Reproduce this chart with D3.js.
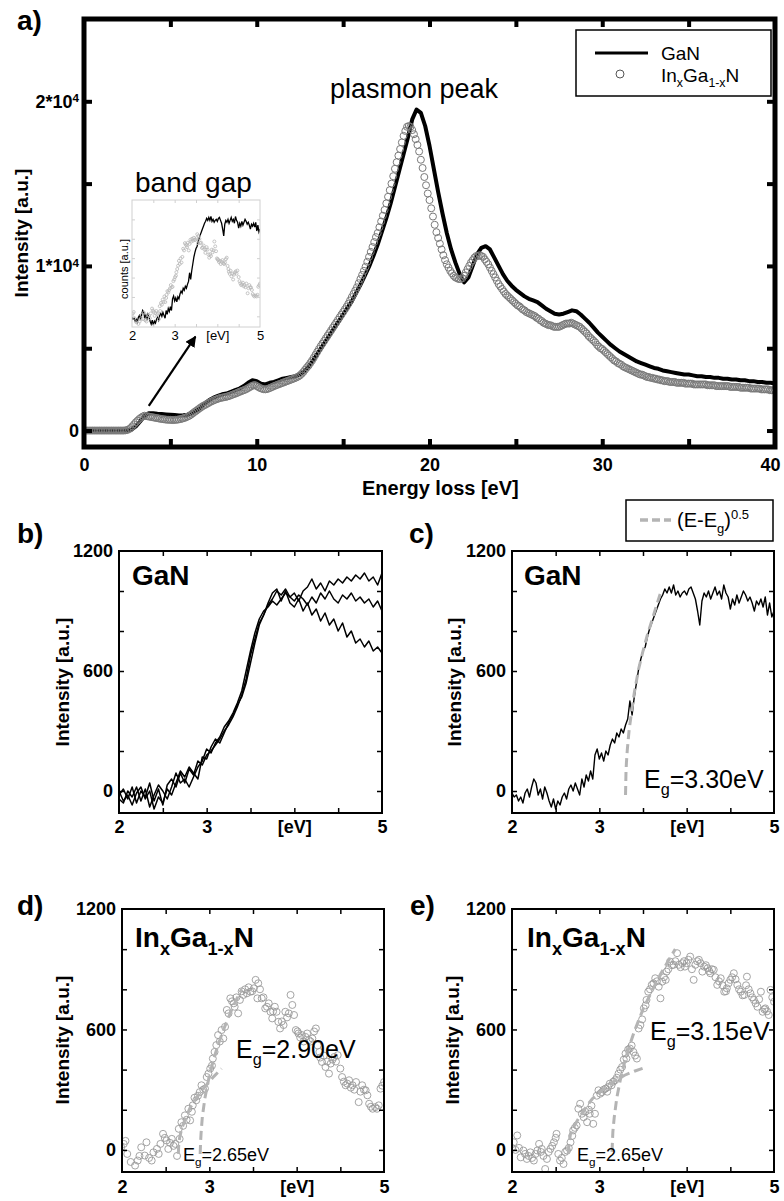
<!DOCTYPE html>
<html><head><meta charset="utf-8">
<script src="https://cdn.jsdelivr.net/npm/d3@7/dist/d3.min.js"></script>
<style>html,body{margin:0;padding:0;background:#fff;}</style>
</head><body>
<svg id="chart" width="784" height="1201" xmlns="http://www.w3.org/2000/svg"></svg>
<script>
const FONT = "'Liberation Sans', Arial, Helvetica, sans-serif";

// ================= DATA =================
// Panel a: EELS spectra (0-40 eV). Channel calibration: energy = start + i*step
const specStart = 0;
const gaNStep = 0.25;
const gaNSpectrum = [
  0,0,0,0, 0,0,0,0, 0,0,0,60, 250,550,900,1050, 1050,1020,1000,980,
  960,940,920,930, 960,1050,1200,1400, 1650,1850,2000,2100, 2200,2250,2350,2450,
  2550,2700,2900,3050, 3000,2850,2800,2900, 2950,3050,3150,3200, 3250,3300,3400,3600,
  3900,4250,4650,5050, 5450,5850,6250,6650, 7050,7450,7850,8350, 8850,9400,9950,10600,
  11300,12100,12900,13800, 14800,15800,16800,17800, 18900,19500,19300,18500,
  17300,15900,14500,13200, 12000,11000,10200,9500, 9000,9300,10000,10700,
  11100,11200,11000,10500, 10000,9500,9100,8800, 8550,8350,8150,8000,
  7900,7800,7600,7400, 7250,7100,7050,7100, 7200,7300,7250,7050,
  6800,6550,6250,5950, 5700,5450,5200,5000, 4800,4650,4500,4350,
  4200,4100,4000,3900, 3800,3750,3650,3600, 3550,3500,3450,3400,
  3400,3350,3300,3300, 3250,3250,3200,3200, 3150,3150,3100,3100,
  3050,3050,3000,3000, 2950,2950,2900,2900, 2850
];
const inGaNStep = 0.1;
const inGaNSpectrum = [
  0,0,0,0,0,0,0,0,0,0,
  0,0,0,0,0,0,0,0,0,0,
  0,0,0,0,10,30,80,150,260,380,
  500,600,700,780,850,900,880,860,840,820,
  800,780,760,740,720,700,690,670,660,650,
  650,640,640,650,660,680,700,730,760,800,
  850,900,970,1050,1130,1200,1280,1360,1430,1500,
  1550,1610,1670,1730,1780,1830,1870,1910,1950,1980,
  2000,2020,2040,2070,2100,2140,2180,2220,2260,2300,
  2350,2390,2430,2470,2520,2580,2640,2700,2750,2760,
  2700,2640,2580,2540,2510,2500,2520,2560,2600,2650,
  2700,2740,2780,2820,2860,2900,2940,2980,3020,3060,
  3100,3140,3180,3230,3280,3350,3450,3560,3700,3830,
  3950,4100,4250,4420,4600,4780,4950,5120,5280,5440,
  5600,5760,5920,6080,6240,6400,6560,6720,6880,7040,
  7200,7360,7520,7700,7900,8100,8300,8500,8700,8950,
  9200,9450,9700,9950,10250,10550,10850,11150,11450,11750,
  12000,12350,12700,13050,13400,13800,14200,14600,15000,15450,
  15900,16300,16700,17100,17500,17900,18200,18450,18500,18450,
  18250,18000,17700,17350,16950,16450,15950,15400,14900,14400,
  14000,13500,13000,12500,12050,11700,11350,11000,10650,10350,
  10100,9900,9700,9550,9400,9300,9250,9200,9200,9250,
  9400,9600,9800,10000,10200,10350,10500,10600,10600,10650,
  10600,10550,10400,10250,10100,9900,9700,9500,9300,9100,
  8900,8750,8600,8450,8300,8200,8100,8000,7900,7800,
  7700,7600,7550,7450,7350,7300,7200,7150,7100,7050,
  7000,6950,6850,6800,6700,6650,6550,6500,6450,6400,
  6400,6350,6300,6300,6300,6300,6350,6400,6450,6500,
  6500,6500,6550,6500,6450,6400,6350,6300,6200,6100,
  6000,5900,5750,5650,5550,5450,5350,5200,5100,5000,
  4950,4850,4750,4650,4550,4450,4350,4250,4200,4100,
  4050,4000,3900,3850,3800,3750,3700,3650,3600,3550,
  3500,3450,3400,3400,3350,3300,3250,3250,3200,3200,
  3150,3150,3100,3100,3050,3050,3000,3000,3000,2950,
  2950,2950,2950,2900,2900,2900,2900,2900,2850,2850,
  2850,2850,2850,2800,2800,2800,2800,2800,2800,2800,
  2800,2750,2750,2750,2750,2750,2700,2700,2700,2700,
  2700,2700,2700,2700,2650,2650,2650,2650,2650,2650,
  2600,2600,2600,2600,2600,2600,2550,2550,2550,2550,
  2550,2550,2500,2500,2500,2500,2500,2450,2450,2450,
  2450
];
const aXLabels = [0, 10, 20, 30, 40];
const aYLabels = [0, 10000, 20000];
const arrowTail = [3.75, 1500];
const arrowHead = [6.45, 5700];

// Panels b, c: GaN band-gap region (2-5 eV)
const lowStart = 2;
const bStep = 0.05;
const gaNScan1 = [
  -20,10,-40,20,-60,0,-30,40,-50,10,
  -70,30,60,20,90,40,110,80,150,130,
  180,200,230,260,300,330,370,420,480,560,
  680,760,840,880,930,960,1000,980,1010,970,
  990,950,1000,1020,1060,1010,1040,1000,1050,1030,
  1060,1040,1070,1050,1080,1060,1090,1050,1070,1030,
  1090
];
const gaNScan2 = [
  -40,-60,0,-30,20,-50,10,-80,-20,30,
  0,-40,20,90,40,60,20,70,120,150,
  210,190,240,270,320,350,390,440,500,600,
  700,790,860,900,920,950,930,960,990,970,
  950,980,960,930,970,940,990,960,1000,960,
  940,980,960,990,950,970,940,960,920,950,
  900
];
const gaNScan3 = [
  0,-50,-20,-70,-10,20,-40,0,-90,-30,
  -60,10,-20,40,100,70,120,90,60,170,
  160,220,260,240,290,340,380,430,470,540,
  640,740,830,880,940,990,1010,950,1000,940,
  920,960,900,940,880,910,850,890,830,860,
  800,840,770,800,740,760,720,750,700,720,
  690
];
const cStep = 0.025;
const gaNSum = [
  -10,-30,-20,-50,-30,-60,-10,10,-30,20,
  60,40,-20,10,-40,20,-10,-50,-80,-40,
  -90,-50,-70,-30,-10,-40,10,30,0,40,
  10,-20,60,20,80,50,100,60,180,210,
  160,190,150,200,180,230,260,240,290,270,
  310,290,330,360,450,380,470,540,610,660,
  700,720,770,810,840,870,900,930,960,980,
  1010,990,1020,990,1030,980,1000,970,990,1000,
  980,1010,1020,990,960,900,830,950,990,970,
  1000,960,990,1020,980,1000,960,1030,990,970,
  910,960,930,980,940,970,1000,980,950,970,
  940,900,950,930,960,920,970,880,940,870,
  900
];
const fitC = [[3.30,-20],[3.305,90],[3.31,140],[3.32,205],[3.34,300],[3.37,400],[3.40,490],[3.45,610],[3.50,700],[3.55,780],[3.60,850],[3.65,920],[3.70,990]];

// Panel d: InGaN (region 1)
const inGaND = [[1.99,13],[2.02,30],[2.04,45],[2.06,-20],[2.10,-60],[2.15,-78],[2.18,-53],[2.20,-30],[2.22,13],[2.26,-28],[2.28,38],[2.31,-40],[2.34,-53],[2.36,-12],[2.40,5],[2.42,-20],[2.44,30],[2.47,80],[2.49,60],[2.51,47],[2.53,5],[2.55,35],[2.57,55],[2.59,20],[2.61,30],[2.63,-30],[2.65,105],[2.66,55],[2.68,138],[2.70,120],[2.72,172],[2.74,150],[2.76,205],[2.78,147],[2.80,190],[2.81,222],[2.83,260],[2.85,247],[2.87,270],[2.89,288],[2.91,322],[2.93,300],[2.95,305],[2.97,363],[2.99,380],[3.01,405],[3.03,420],[3.04,455],[3.06,488],[3.08,522],[3.10,572],[3.12,540],[3.14,597],[3.16,555],[3.18,613],[3.20,697],[3.22,680],[3.24,755],[3.26,740],[3.28,730],[3.29,713],[3.31,760],[3.33,680],[3.35,747],[3.37,790],[3.39,772],[3.41,800],[3.43,780],[3.45,810],[3.47,788],[3.49,790],[3.51,805],[3.53,847],[3.55,755],[3.56,830],[3.58,800],[3.60,755],[3.62,760],[3.64,705],[3.66,713],[3.68,730],[3.70,688],[3.72,655],[3.73,690],[3.75,713],[3.77,688],[3.79,638],[3.81,605],[3.83,640],[3.85,622],[3.87,688],[3.89,660],[3.91,680],[3.93,772],[3.95,722],[3.97,672],[3.99,597],[4.01,590],[4.02,580],[4.04,560],[4.06,572],[4.08,540],[4.10,563],[4.12,580],[4.14,547],[4.16,540],[4.18,555],[4.20,590],[4.22,605],[4.24,520],[4.26,488],[4.27,460],[4.29,438],[4.31,470],[4.33,413],[4.35,440],[4.37,380],[4.39,430],[4.41,450],[4.43,463],[4.45,440],[4.47,472],[4.50,405],[4.52,363],[4.54,340],[4.56,322],[4.58,330],[4.60,347],[4.62,310],[4.64,322],[4.66,300],[4.68,338],[4.71,238],[4.73,290],[4.75,322],[4.77,300],[4.79,297],[4.81,272],[4.83,230],[4.85,215],[4.87,205],[4.90,213],[4.92,205],[4.94,222],[4.96,305],[4.98,320],[5.00,338]];
const fitD1 = [[2.645,-20],[2.65,30],[2.66,60],[2.68,100],[2.72,150],[2.78,210],[2.87,270],[2.95,315],[3.05,365],[3.14,405]];
const fitD2 = [[2.895,-20],[2.90,40],[2.905,80],[2.92,165],[2.95,260],[3.00,370],[3.05,453],[3.10,523],[3.15,585],[3.20,640],[3.25,692],[3.30,740],[3.37,800]];

// Panel e: InGaN (region 2)
const inGaNE = [[2.00,10],[2.02,38],[2.04,0],[2.06,72],[2.08,10],[2.10,-37],[2.13,-3],[2.15,-20],[2.17,-45],[2.19,-30],[2.21,-12],[2.23,-40],[2.25,-53],[2.27,-20],[2.29,-3],[2.31,30],[2.33,-10],[2.34,5],[2.36,-30],[2.38,-95],[2.40,-45],[2.42,-10],[2.44,5],[2.46,20],[2.48,38],[2.50,60],[2.51,80],[2.53,-20],[2.55,-53],[2.57,-40],[2.59,-70],[2.61,-10],[2.63,-3],[2.65,10],[2.67,38],[2.69,70],[2.70,97],[2.72,110],[2.74,122],[2.76,205],[2.78,230],[2.80,180],[2.82,163],[2.84,190],[2.86,138],[2.88,200],[2.89,180],[2.91,220],[2.93,130],[2.95,180],[2.97,270],[2.99,297],[3.01,280],[3.03,288],[3.05,300],[3.07,305],[3.09,290],[3.10,313],[3.12,330],[3.14,322],[3.16,340],[3.18,347],[3.20,360],[3.22,380],[3.24,400],[3.26,413],[3.28,450],[3.30,480],[3.31,455],[3.33,500],[3.35,505],[3.37,520],[3.39,488],[3.41,470],[3.43,455],[3.45,605],[3.47,622],[3.49,650],[3.51,705],[3.53,720],[3.54,747],[3.56,788],[3.58,800],[3.60,822],[3.62,830],[3.64,855],[3.66,840],[3.68,813],[3.70,755],[3.72,838],[3.74,860],[3.76,847],[3.77,888],[3.79,900],[3.81,938],[3.83,920],[3.85,922],[3.87,940],[3.89,980],[3.91,922],[3.93,910],[3.95,930],[3.97,940],[3.98,913],[4.00,930],[4.02,947],[4.04,963],[4.06,900],[4.08,847],[4.10,922],[4.12,940],[4.14,947],[4.16,930],[4.18,888],[4.20,913],[4.22,920],[4.24,905],[4.26,890],[4.27,880],[4.29,900],[4.31,897],[4.33,860],[4.35,822],[4.37,840],[4.39,855],[4.41,820],[4.43,788],[4.45,790],[4.46,805],[4.48,830],[4.50,847],[4.52,860],[4.54,880],[4.56,850],[4.58,822],[4.60,800],[4.62,788],[4.64,770],[4.66,772],[4.68,820],[4.69,863],[4.71,800],[4.73,780],[4.75,760],[4.77,747],[4.79,730],[4.81,713],[4.83,750],[4.85,788],[4.87,688],[4.89,700],[4.90,705],[4.92,690],[4.94,672],[4.96,797],[4.98,760],[5.00,738]];
const fitE1 = [[2.645,-20],[2.65,20],[2.655,40],[2.67,80],[2.70,110],[2.76,155],[2.85,215],[2.92,255],[3.00,285],[3.10,322],[3.20,350],[3.29,372],[3.40,392],[3.52,410]];
const fitE2 = [[3.145,-10],[3.15,40],[3.155,90],[3.17,160],[3.20,260],[3.25,370],[3.30,455],[3.35,525],[3.40,590],[3.50,700],[3.60,790],[3.70,875],[3.80,950],[3.87,1000]];

const lowXLabelVals = [2, 3, 4, 5];
const lowXLabels = ["2", "3", "[eV]", "5"];
const lowYLabels = [0, 600, 1200];
const lowXMinor = [2.5, 3, 3.5, 4, 4.5];
const lowYMinor = [0, 200, 400, 600, 800, 1000];

// ================= DRAW =================
const svg = d3.select("#chart").attr("font-family", FONT);
svg.append("rect").attr("width", 784).attr("height", 1201).attr("fill", "#fff");

function rich(g, x, y, parts, size, weight, anchor) {
  const t = g.append("text").attr("x", x).attr("y", y).attr("font-size", size)
    .attr("font-weight", weight || "normal").attr("text-anchor", anchor || "start").attr("fill", "#000");
  let shift = 0;
  parts.forEach(([s, k]) => {
    const sp = t.append("tspan").text(s);
    const target = k === "sub" ? size * 0.28 : k === "sup" ? -size * 0.42 : 0;
    if (target - shift !== 0) sp.attr("dy", target - shift);
    shift = target;
    if (k) sp.attr("font-size", size * 0.65);
  });
  return t;
}
function vlabel(g, cx, cy, txt, size, weight) {
  g.append("text").attr("transform", `translate(${cx},${cy}) rotate(-90)`)
    .attr("text-anchor", "middle").attr("dy", "0.35em").attr("font-size", size)
    .attr("font-weight", weight || "bold").attr("fill", "#000").text(txt);
}

let clipN = 0;
function makePanel(xDom, xRange, yDom, yRange) {
  const x = d3.scaleLinear().domain(xDom).range(xRange);
  const y = d3.scaleLinear().domain(yDom).range(yRange);
  const id = "clip" + (clipN++);
  svg.append("clipPath").attr("id", id).append("rect")
    .attr("x", xRange[0]).attr("y", yRange[1])
    .attr("width", xRange[1] - xRange[0]).attr("height", yRange[0] - yRange[1]);
  const g = svg.append("g");
  const plot = g.append("g").attr("clip-path", `url(#${id})`);
  return { g, x, y, plot };
}

function drawAxes(p, o) {
  const { g, x, y } = p;
  const [xl, xr] = x.range(), [yb, yt] = y.range();
  const style = sel => {
    sel.select(".domain").remove();
    sel.selectAll(".tick line").attr("stroke", o.color).attr("stroke-width", o.tickW);
  };
  g.append("g").attr("transform", `translate(0,${yb})`)
    .call(d3.axisBottom(x).tickValues(o.xMinor).tickSize(-o.tickLen).tickFormat("")).call(style);
  g.append("g").attr("transform", `translate(0,${yt})`)
    .call(d3.axisTop(x).tickValues(o.xMinor).tickSize(-o.tickLen).tickFormat("")).call(style);
  g.append("g").attr("transform", `translate(${xl},0)`)
    .call(d3.axisLeft(y).tickValues(o.yMinor).tickSize(-o.tickLen).tickFormat("")).call(style);
  g.append("g").attr("transform", `translate(${xr},0)`)
    .call(d3.axisRight(y).tickValues(o.yMinor).tickSize(-o.tickLen).tickFormat("")).call(style);
  g.append("rect").attr("x", xl).attr("y", yt).attr("width", xr - xl).attr("height", yb - yt)
    .attr("fill", "none").attr("stroke", o.color).attr("stroke-width", o.frameW);
  if (o.xLabVals) {
    const lx = g.append("g").attr("transform", `translate(0,${yb})`)
      .call(d3.axisBottom(x).tickValues(o.xLabVals).tickSize(0).tickPadding(o.xPad)
        .tickFormat((d, i) => o.xLabs[i]));
    lx.select(".domain").remove();
    lx.attr("font-family", FONT).attr("font-size", o.fs).attr("font-weight", o.fw);
    lx.selectAll("text").attr("fill", "#000");
    if (o.lastDx) lx.selectAll(".tick text").filter((d, i, n) => i === n.length - 1).attr("dx", o.lastDx);
  }
  if (o.yLabVals) {
    const ly = g.append("g").attr("transform", `translate(${xl},0)`)
      .call(d3.axisLeft(y).tickValues(o.yLabVals).tickSize(0).tickPadding(o.yPad)
        .tickFormat(o.yFmt || (d => String(d))));
    ly.select(".domain").remove();
    ly.attr("font-family", FONT).attr("font-size", o.fs).attr("font-weight", o.fw);
    ly.selectAll("text").attr("fill", "#000");
    if (o.yPost) o.yPost(ly);
  }
}

// ---------- Panel a ----------
const pa = makePanel([0, 40], [84, 775], [-1000, 25000], [447, 19]);
const gaNPts = gaNSpectrum.map((v, i) => [specStart + i * gaNStep, v]);
const inGaNPts = inGaNSpectrum.map((v, i) => [specStart + i * inGaNStep, v]);
const lineA = d3.line().x(d => pa.x(d[0])).y(d => pa.y(d[1]));
pa.plot.append("path").datum(gaNPts).attr("d", lineA).attr("fill", "none")
  .attr("stroke", "#000").attr("stroke-width", 4).attr("stroke-linejoin", "round");
pa.plot.append("g").selectAll("circle").data(inGaNPts).join("circle")
  .attr("cx", d => pa.x(d[0])).attr("cy", d => pa.y(d[1])).attr("r", 3.5)
  .attr("fill", "none").attr("stroke", "#7a7a7a").attr("stroke-width", 1);
drawAxes(pa, {
  color: "#000", tickW: 4, tickLen: 8, frameW: 5,
  xMinor: [5, 10, 15, 20, 25, 30, 35], yMinor: [0, 5000, 10000, 15000, 20000],
  xLabVals: aXLabels, xLabs: aXLabels.map(String), xPad: 11, lastDx: -5,
  yLabVals: aYLabels, yPad: 5, fs: 18, fw: "bold",
  yFmt: d => (d === 0 ? "0" : ""),
  yPost: ly => ly.selectAll(".tick text").each(function (d) {
    if (d > 0) {
      const t = d3.select(this);
      t.append("tspan").text(`${d / 10000}*10`);
      t.append("tspan").attr("dy", "-0.45em").attr("font-size", "65%").text("4");
    }
  })
});
vlabel(svg, 21, 233, "Intensity [a.u.]", 19, "bold");
svg.append("text").attr("x", 362).attr("y", 495).attr("font-size", 20).attr("font-weight", "bold")
  .attr("fill", "#000").text("Energy loss [eV]");
svg.append("text").attr("x", 17).attr("y", 30).attr("font-size", 28).attr("font-weight", "bold").text("a)");
svg.append("text").attr("x", 330).attr("y", 98).attr("font-size", 27).text("plasmon peak");
svg.append("text").attr("x", 135).attr("y", 192).attr("font-size", 28).text("band gap");

// arrow
svg.append("defs").append("marker").attr("id", "arrowhead").attr("viewBox", "0 0 10 10")
  .attr("refX", 9).attr("refY", 5).attr("markerWidth", 5).attr("markerHeight", 5)
  .attr("markerUnits", "strokeWidth").attr("orient", "auto")
  .append("path").attr("d", "M0,0 L10,5 L0,10 z").attr("fill", "#000");
svg.append("line").attr("x1", pa.x(arrowTail[0])).attr("y1", pa.y(arrowTail[1]))
  .attr("x2", pa.x(arrowHead[0])).attr("y2", pa.y(arrowHead[1]))
  .attr("stroke", "#000").attr("stroke-width", 2.2).attr("marker-end", "url(#arrowhead)");

// legend a
const lgA = svg.append("g");
lgA.append("rect").attr("x", 576).attr("y", 30).attr("width", 195).attr("height", 66)
  .attr("fill", "#fff").attr("stroke", "#000").attr("stroke-width", 1.5);
lgA.append("line").attr("x1", 595).attr("x2", 648).attr("y1", 53).attr("y2", 53)
  .attr("stroke", "#000").attr("stroke-width", 3);
lgA.append("circle").attr("cx", 620).attr("cy", 74).attr("r", 4).attr("fill", "none")
  .attr("stroke", "#555").attr("stroke-width", 1);
rich(lgA, 661, 60, [["GaN"]], 19);
rich(lgA, 661, 82, [["In"], ["x", "sub"], ["Ga"], ["1-x", "sub"], ["N"]], 19);

// inset
const pi = makePanel([2, 5], [132, 260], [-110, 1200], [327, 200]);
pi.plot.append("path").datum(gaNSum.map((v, i) => [lowStart + i * cStep, v]))
  .attr("d", d3.line().x(d => pi.x(d[0])).y(d => pi.y(d[1])))
  .attr("fill", "none").attr("stroke", "#000").attr("stroke-width", 1.3);
pi.plot.append("g").selectAll("circle").data(inGaND).join("circle")
  .attr("cx", d => pi.x(d[0])).attr("cy", d => pi.y(d[1])).attr("r", 1.5)
  .attr("fill", "none").attr("stroke", "#b8b8b8").attr("stroke-width", 0.8);
drawAxes(pi, {
  color: "#d0d0d0", tickW: 1, tickLen: 3, frameW: 1,
  xMinor: lowXMinor, yMinor: lowYMinor,
  xLabVals: lowXLabelVals, xLabs: lowXLabels, xPad: 4, fs: 13, fw: "normal"
});
vlabel(svg, 124, 269, "counts [a.u.]", 11, "normal");

// ---------- low-loss panels ----------
const lowAxisOpt = (xPad) => ({
  color: "#000", tickW: 1.5, tickLen: 5, frameW: 2,
  xMinor: lowXMinor, yMinor: lowYMinor,
  xLabVals: lowXLabelVals, xLabs: lowXLabels, xPad: xPad,
  yLabVals: lowYLabels, yPad: 6, fs: 18, fw: "bold"
});
const fitStyle = sel => sel.attr("fill", "none").attr("stroke", "#b4b4b4").attr("stroke-width", 3)
  .attr("stroke-dasharray", "9,5");

// Panel b
const pb = makePanel([2, 5], [119, 382], [-110, 1200], [813, 551]);
const lineB = d3.line().x(d => pb.x(d[0])).y(d => pb.y(d[1]));
[gaNScan1, gaNScan2, gaNScan3].forEach(s => {
  pb.plot.append("path").datum(s.map((v, i) => [lowStart + i * bStep, v])).attr("d", lineB)
    .attr("fill", "none").attr("stroke", "#000").attr("stroke-width", 1.5).attr("stroke-linejoin", "round");
});
drawAxes(pb, lowAxisOpt(7));
vlabel(svg, 62, 682, "Intensity [a.u.]", 19, "bold");
svg.append("text").attr("x", 17).attr("y", 543).attr("font-size", 28).attr("font-weight", "bold").text("b)");
rich(svg, 132, 585, [["GaN"]], 28, "bold");

// Panel c
const pc = makePanel([2, 5], [512, 774], [-110, 1200], [813, 551]);
const lineC = d3.line().x(d => pc.x(d[0])).y(d => pc.y(d[1]));
pc.plot.append("path").datum(gaNSum.map((v, i) => [lowStart + i * cStep, v])).attr("d", lineC)
  .attr("fill", "none").attr("stroke", "#000").attr("stroke-width", 1.4).attr("stroke-linejoin", "round");
pc.plot.append("path").datum(fitC).attr("d", lineC).call(fitStyle);
drawAxes(pc, lowAxisOpt(7));
vlabel(svg, 454, 682, "Intensity [a.u.]", 19, "bold");
svg.append("text").attr("x", 409).attr("y", 543).attr("font-size", 28).attr("font-weight", "bold").text("c)");
rich(svg, 524, 585, [["GaN"]], 28, "bold");
rich(svg, 644, 788, [["E"], ["g", "sub"], ["=3.30eV"]], 25);
// legend c
const lgC = svg.append("g");
lgC.append("rect").attr("x", 626).attr("y", 500).attr("width", 147).attr("height", 41)
  .attr("fill", "#fff").attr("stroke", "#000").attr("stroke-width", 1.5);
lgC.append("line").attr("x1", 640).attr("x2", 671).attr("y1", 520).attr("y2", 520)
  .attr("stroke", "#b4b4b4").attr("stroke-width", 3.5).attr("stroke-dasharray", "8,4");
rich(lgC, 677, 527, [["(E-E"], ["g", "sub"], [")"], ["0.5", "sup"]], 20);

// Panel d
const pd = makePanel([2, 5], [122, 384], [-110, 1200], [1172, 909]);
const lineD = d3.line().x(d => pd.x(d[0])).y(d => pd.y(d[1]));
pd.plot.append("g").selectAll("circle").data(inGaND).join("circle")
  .attr("cx", d => pd.x(d[0])).attr("cy", d => pd.y(d[1])).attr("r", 3.5)
  .attr("fill", "none").attr("stroke", "#9a9a9a").attr("stroke-width", 0.9);
pd.plot.append("path").datum(fitD1).attr("d", lineD).call(fitStyle);
pd.plot.append("path").datum(fitD2).attr("d", lineD).call(fitStyle);
drawAxes(pd, lowAxisOpt(8));
vlabel(svg, 62, 1040, "Intensity [a.u.]", 19, "bold");
svg.append("text").attr("x", 17).attr("y", 915).attr("font-size", 28).attr("font-weight", "bold").text("d)");
rich(svg, 135, 947, [["In"], ["x", "sub"], ["Ga"], ["1-x", "sub"], ["N"]], 28, "bold");
rich(svg, 236, 1058, [["E"], ["g", "sub"], ["=2.90eV"]], 25);
rich(svg, 183, 1161, [["E"], ["g", "sub"], ["=2.65eV"]], 18);

// Panel e
const pe = makePanel([2, 5], [512, 774], [-110, 1200], [1172, 909]);
const lineE = d3.line().x(d => pe.x(d[0])).y(d => pe.y(d[1]));
pe.plot.append("g").selectAll("circle").data(inGaNE).join("circle")
  .attr("cx", d => pe.x(d[0])).attr("cy", d => pe.y(d[1])).attr("r", 3.5)
  .attr("fill", "none").attr("stroke", "#9a9a9a").attr("stroke-width", 0.9);
pe.plot.append("path").datum(fitE1).attr("d", lineE).call(fitStyle);
pe.plot.append("path").datum(fitE2).attr("d", lineE).call(fitStyle);
drawAxes(pe, lowAxisOpt(8));
vlabel(svg, 452, 1040, "Intensity [a.u.]", 19, "bold");
svg.append("text").attr("x", 410).attr("y", 915).attr("font-size", 28).attr("font-weight", "bold").text("e)");
rich(svg, 527, 947, [["In"], ["x", "sub"], ["Ga"], ["1-x", "sub"], ["N"]], 28, "bold");
rich(svg, 650, 1040, [["E"], ["g", "sub"], ["=3.15eV"]], 25);
rich(svg, 577, 1161, [["E"], ["g", "sub"], ["=2.65eV"]], 18);
</script>
</body></html>
